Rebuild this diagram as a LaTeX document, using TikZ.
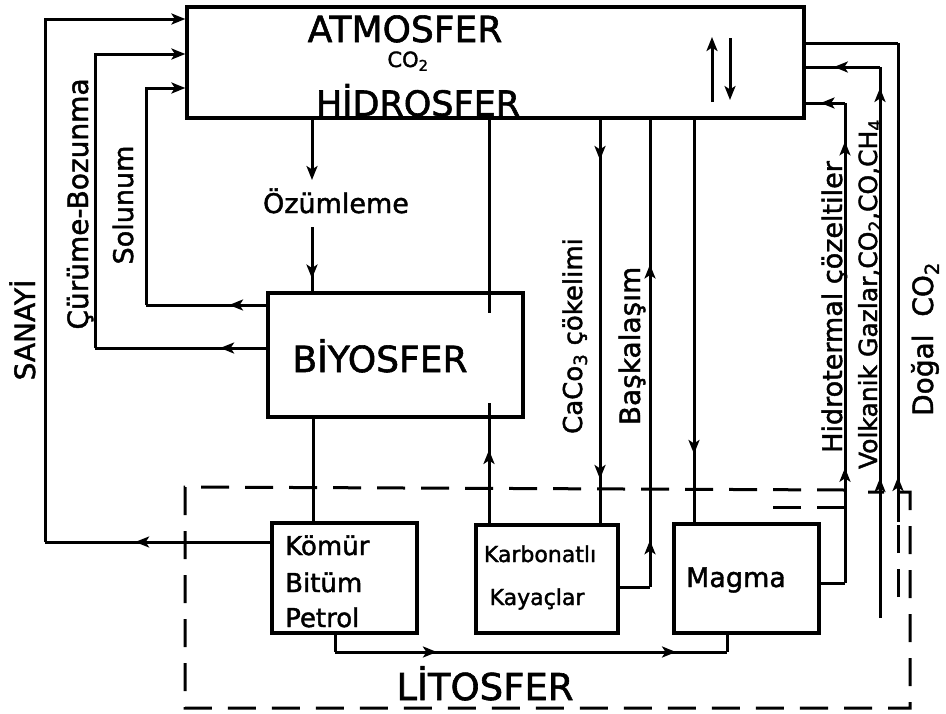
\documentclass[tikz,border=0pt]{standalone}
\usepackage{fontspec}
\setmainfont{DejaVu Sans}[FakeBold=1.6]
\usetikzlibrary{arrows.meta,decorations.markings}
\tikzset{
  >={Stealth[length=14pt,width=11pt,inset=3.5pt]},
  ln/.style={line width=3pt},
  arrat/.style={postaction={decorate,decoration={markings,mark=at position #1 with {\arrow{>}}}}},
  box/.style={draw,line width=3.2pt,inner sep=0pt},
  dsh/.style={line width=3pt,dash pattern=on 28pt off 16pt},
  lbl/.style={inner sep=0pt,anchor=base},
  vlbl/.style={inner sep=0pt,anchor=base,rotate=90},
}
\newcommand{\fs}[1]{\fontsize{#1}{#1}\selectfont}
\begin{document}
\begin{tikzpicture}[x=1pt,y=-1pt]
\useasboundingbox (0,0) rectangle (946,713);
% boxes
\node[box,minimum width=617pt,minimum height=111pt] (atm) at (495.5,62.5) {};
\node[box,minimum width=255pt,minimum height=124pt] (bio) at (395.5,355) {};
\node[box,minimum width=145pt,minimum height=110pt] (kom) at (344.5,578) {};
\node[box,minimum width=142pt,minimum height=108pt] (kar) at (547,579) {};
\node[box,minimum width=145pt,minimum height=109pt] (mag) at (746.5,578.5) {};
% texts in boxes
\node[lbl,font=\fs{36}] (tATM) at (405,42) {ATMOSFER};
\node[lbl,font=\fs{21}] (tCO) at (408,67) {CO\textsubscript{2}};
\node[lbl,font=\fs{35}] (tHID) at (418,116) {HİDROSFER};
\node[lbl,font=\fs{36}] (tBIO) at (380,372) {BİYOSFER};
\node[lbl,font=\fs{26},anchor=base west] (tK1) at (285,555) {Kömür};
\node[lbl,font=\fs{26},anchor=base west] (tK2) at (285,592) {Bitüm};
\node[lbl,font=\fs{26},anchor=base west] (tK3) at (285,627) {Petrol};
\node[lbl,font=\fs{22}] (tKa1) at (540,562) {Karbonatlı};
\node[lbl,font=\fs{22}] (tKa2) at (537,605) {Kayaçlar};
\node[lbl,font=\fs{27}] (tMag) at (736,587) {Magma};
\node[lbl,font=\fs{37}] (tLIT) at (485,700) {LİTOSFER};
\node[lbl,font=\fs{27}] (tOZ) at (336,213) {Özümleme};
% rotated labels
\node[vlbl,font=\fs{28}] (tSAN) at (35,330) {SANAYİ};
\node[vlbl,font=\fs{28}] (tCUR) at (88,204) {Çürüme-Bozunma};
\node[vlbl,font=\fs{27}] (tSOL) at (133,205) {Solunum};
\node[vlbl,font=\fs{26}] (tCAC) at (582,336) {CaCo\textsubscript{3} çökelimi};
\node[vlbl,font=\fs{28}] (tBAS) at (640,346) {Başkalaşım};
\node[vlbl,font=\fs{27}] (tHYD) at (842,307) {Hidrotermal çözeltiler};
\node[vlbl,font=\fs{25}] (tVOL) at (877,294) {Volkanik Gazlar,CO\textsubscript{2},CO,CH\textsubscript{4}};
\node[vlbl,font=\fs{28}] (tDOG) at (933,339) {Doğal\ \ CO\textsubscript{2}};
% litosfer dashed outline
\draw[dsh] (845,490) -- (185,487) -- (185,708) -- (910,708) -- (910,492) -- (868,492);
\draw[dsh] (845,507) -- (768,507);
% equilibrium arrows
\coordinate (u1) at (712,102); \coordinate (u2) at (712,37);
\coordinate (d1) at (730,38); \coordinate (d2) at (730,100);
\draw[ln,->] (u1) -- (u2);
\draw[ln,->] (d1) -- (d2);
% SANAYI
\coordinate (sA) at (45,542); \coordinate (sB) at (45,19);
\draw[ln,arrat=0.6] (kom.west |- sA) -- (sA);
\draw[ln,->] (sA) -- (sB) -- (atm.west |- sB);
% Curume
\coordinate (cA) at (95,348); \coordinate (cB) at (95,54);
\draw[ln,arrat=0.27] (bio.west |- cA) -- (cA);
\draw[ln,->] (cA) -- (cB) -- (atm.west |- cB);
% Solunum
\coordinate (oA) at (146,305); \coordinate (oB) at (146,88);
\draw[ln,arrat=0.31] (bio.west |- oA) -- (oA);
\draw[ln,->] (oA) -- (oB) -- (atm.west |- oB);
% Ozumleme
\coordinate (zA) at (312,180); \coordinate (zB) at (312,227);
\draw[ln,->] (atm.south -| zA) -- (zA);
\draw[ln,arrat=0.8] (zB) -- (bio.north -| zB);
% atm - bio - karbonatli
\coordinate (kA) at (489,313); \coordinate (kB) at (489,403);
\draw[ln] (atm.south -| kA) -- (kA);
\draw[ln,arrat=0.61] (kar.north -| kB) -- (kB);
% bio - komur
\coordinate (bk) at (313,0);
\draw[ln] (bio.south -| bk) -- (kom.north -| bk);
% CaCO3
\coordinate (ca) at (600,0);
\draw[ln,arrat=0.1,arrat=0.89] (atm.south -| ca) -- (kar.north -| ca);
% Baskalasim
\coordinate (bA) at (650,587);
\draw[ln] (kar.east |- bA) -- (bA);
\draw[ln,arrat=0.1,arrat=0.69] (bA) -- (atm.south -| bA);
% Magma
\coordinate (ma) at (694,0);
\draw[ln,arrat=0.83] (atm.south -| ma) -- (mag.north -| ma);
% Hidrotermal
\coordinate (hA) at (845,583); \coordinate (hB) at (845,103);
\draw[ln] (mag.east |- hA) -- (hA);
\draw[ln,arrat=0.24,arrat=0.92] (hA) -- (hB);
\draw[ln,arrat=0.62] (hB) -- (atm.east |- hB);
% Volkanik
\coordinate (vA) at (880,618); \coordinate (vB) at (880,67);
\draw[ln,arrat=0.254,arrat=0.962] (vA) -- (vB);
\draw[ln,arrat=0.62] (vB) -- (atm.east |- vB);
% Dogal
\coordinate (gC) at (898,597); \coordinate (gA) at (898,522); \coordinate (gB) at (898,43);
\draw[dsh] (gC) -- (gA);
\draw[ln,arrat=0.094] (gA) -- (gB);
\draw[ln] (gB) -- (atm.east |- gB);
% Komur - Magma
\coordinate (kmA) at (335,652); \coordinate (kmB) at (727,652);
\draw[ln] (kom.south -| kmA) -- (kmA);
\draw[ln,arrat=0.26,arrat=0.87] (kmA) -- (kmB);
\draw[ln] (kmB) -- (mag.south -| kmB);
\end{tikzpicture}
\end{document}
